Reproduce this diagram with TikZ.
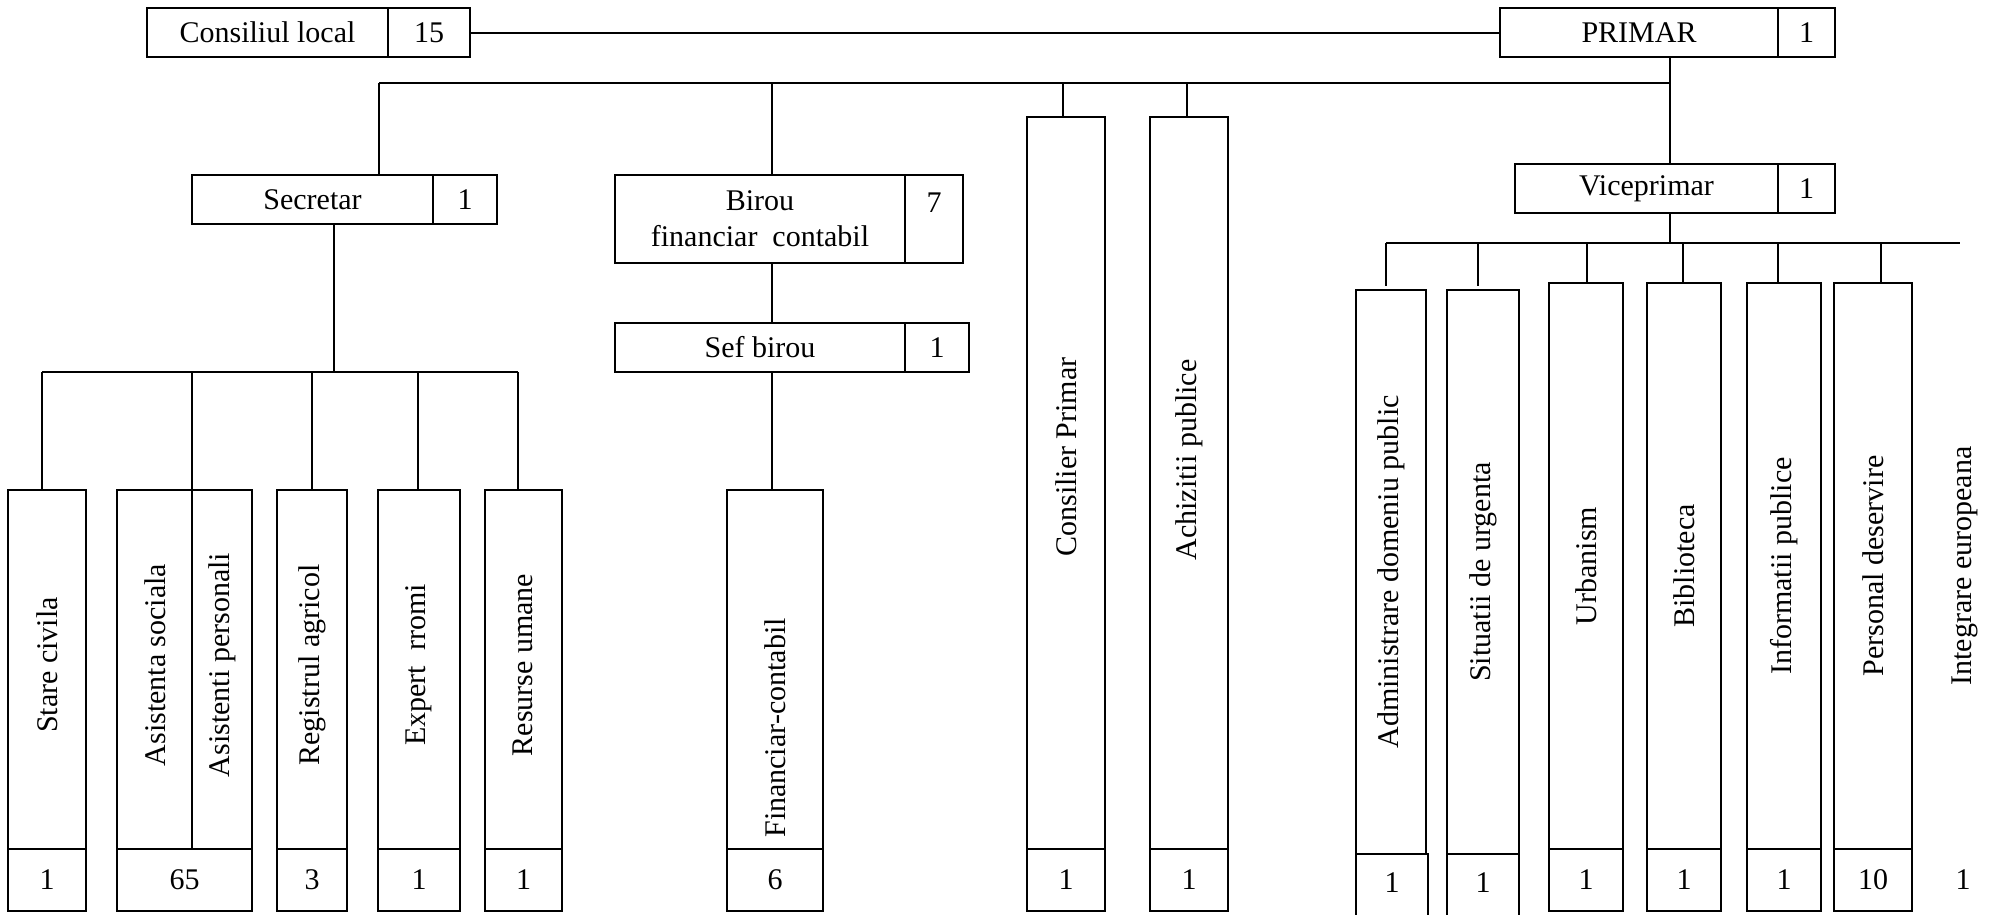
\documentclass[tikz,border=0pt]{standalone}
\usepackage{fontspec}
\setmainfont{Liberation Serif}
\usetikzlibrary{calc}
\newcommand\fs{\fontsize{30}{36}\selectfont}
\newcommand\rbox[7][]{\node[bx,minimum width={#5-#3},minimum height={#6-#4},#1] (#2) at (#3,#4) {#7};}
\begin{document}
\begin{tikzpicture}[x=1pt,y=-1pt,line width=2pt,
  bx/.style={draw,inner sep=0pt,outer sep=0pt,anchor=north west,font=\fs,align=center},
  lbl/.style={inner sep=0pt,font=\fs},
  vlbl/.style={inner sep=0pt,font=\fs,rotate=90},
  gapdrop/.style={shorten >=4pt}]
\useasboundingbox (0,0) rectangle (1992,914);
% top row
\rbox{cl}{147}{8}{388}{57}{Consiliul local}
\rbox{cln}{388}{8}{470}{57}{15}
\rbox{pr}{1500}{8}{1778}{57}{PRIMAR}
\rbox{prn}{1778}{8}{1835}{57}{1}
\draw (cln.east) -- (pr.west);
% bus 1
\coordinate (b1a) at (379,83);
\coordinate (b1b) at (772,83);
\coordinate (b1c) at (1063,83);
\coordinate (b1d) at (1187,83);
\coordinate (b1e) at (1670,83);
\draw (b1a) -- (b1e);
% secretar, birou
\rbox{sec}{192}{175}{433}{224}{Secretar}
\rbox{secn}{433}{175}{497}{224}{1}
\rbox{bir}{615}{175}{905}{263}{Birou\\financiar\ \ contabil}
\rbox{birn}{905}{175}{963}{263}{}
\node[lbl] (birnum) at (934,203) {7};
\rbox{sef}{615}{323}{905}{372}{Sef birou}
\rbox{sefn}{905}{323}{969}{372}{1}
% consilier, achizitii
\rbox{con}{1027}{117}{1105}{849}{}
\rbox{conn}{1027}{849}{1105}{911}{1}
\rbox{ach}{1150}{117}{1228}{849}{}
\rbox{achn}{1150}{849}{1228}{911}{1}
\node[vlbl] (conl) at (1066,457) {Consilier Primar};
\node[vlbl] (achl) at (1189,460) {Achizitii publice};
% viceprimar
\rbox{vp}{1515}{164}{1778}{213}{Viceprimar}
\rbox{vpn}{1778}{164}{1835}{213}{1}
\draw (b1a) -- (b1a |- sec.north);
\draw (b1b) -- (b1b |- bir.north);
\draw (b1c) -- (b1c |- con.north);
\draw (b1d) -- (b1d |- ach.north);
\draw (b1e |- pr.south) -- (b1e |- vp.north);
\draw (b1b |- bir.south) -- (b1b |- sef.north);
% secretar subordinates
\coordinate (s0) at (334,372);
\coordinate (s1) at (42,372);
\coordinate (s2) at (192,372);
\coordinate (s3) at (312,372);
\coordinate (s4) at (418,372);
\coordinate (s5) at (518,372);
\draw (s0 |- sec.south) -- (s0);
\draw (s1) -- (s5);
\rbox{st}{8}{490}{86}{849}{}
\rbox{stn}{8}{849}{86}{911}{1}
\rbox{as}{117}{490}{252}{849}{}
\rbox{asn}{117}{849}{252}{911}{65}
\rbox{rg}{277}{490}{347}{849}{}
\rbox{rgn}{277}{849}{347}{911}{3}
\rbox{ex}{378}{490}{460}{849}{}
\rbox{exn}{378}{849}{460}{911}{1}
\rbox{rs}{485}{490}{562}{849}{}
\rbox{rsn}{485}{849}{562}{911}{1}
\draw (s1) -- (s1 |- st.north);
\draw (s2) -- (s2 |- asn.north);
\draw (s3) -- (s3 |- rg.north);
\draw (s4) -- (s4 |- ex.north);
\draw (s5) -- (s5 |- rs.north);
\node[vlbl] (stl) at (47,665) {Stare civila};
\node[vlbl] (asl) at (155,665) {Asistenta sociala};
\node[vlbl] (apl) at (222,665) {Asistenti personali};
\node[vlbl] (rgl) at (312,665) {Registrul agricol};
\node[vlbl] (exl) at (419,665) {Expert\ \ rromi};
\node[vlbl] (rsl) at (523,665) {Resurse umane};
% financiar
\rbox{fin}{727}{490}{823}{849}{}
\rbox{finn}{727}{849}{823}{911}{6}
\draw (b1b |- sef.south) -- (b1b |- fin.north);
\node[vlbl] (finl) at (775,728) {Financiar-contabil};
% viceprimar subordinates
\coordinate (v0) at (1670,243);
\coordinate (v1) at (1386,243);
\coordinate (v2) at (1478,243);
\coordinate (v3) at (1587,243);
\coordinate (v4) at (1683,243);
\coordinate (v5) at (1778,243);
\coordinate (v6) at (1881,243);
\coordinate (v7) at (1960,243);
\draw (v0 |- vp.south) -- (v0);
\draw (v1) -- (v7);
\rbox{ad}{1356}{290}{1426}{854}{}
\rbox[draw=none]{adn}{1356}{854}{1428}{930}{}
\draw (adn.south west) -- (adn.north west) -- (adn.north east) -- (adn.south east);
\rbox{si}{1447}{290}{1519}{854}{}
\rbox[draw=none]{sin}{1447}{854}{1519}{930}{}
\draw (sin.south west) -- (sin.north west) -- (sin.north east) -- (sin.south east);
\node[lbl] (adnum) at (1392,883) {1};
\node[lbl] (sinum) at (1483,883) {1};
\rbox{ur}{1549}{283}{1623}{849}{}
\rbox{urn}{1549}{849}{1623}{911}{1}
\rbox{bi}{1647}{283}{1721}{849}{}
\rbox{bin}{1647}{849}{1721}{911}{1}
\rbox{in}{1747}{283}{1821}{849}{}
\rbox{inn}{1747}{849}{1821}{911}{1}
\rbox{pe}{1834}{283}{1912}{849}{}
\rbox{pen}{1834}{849}{1912}{911}{10}
\draw[gapdrop] (v1) -- (v1 |- ad.north);
\draw[gapdrop] (v2) -- (v2 |- si.north);
\draw (v3) -- (v3 |- ur.north);
\draw (v4) -- (v4 |- bi.north);
\draw (v5) -- (v5 |- in.north);
\draw (v6) -- (v6 |- pe.north);
\node[vlbl] (adl) at (1391,572) {Administrare domeniu public};
\node[vlbl] (sil) at (1483,572) {Situatii de urgenta};
\node[vlbl] (url) at (1586,566) {Urbanism};
\node[vlbl] (bil) at (1684,566) {Biblioteca};
\node[vlbl] (inl) at (1784,566) {Informatii publice};
\node[vlbl] (pel) at (1873,566) {Personal deservire};
\node[vlbl] (iel) at (1965,566) {Integrare europeana};
\node[lbl] (ienum) at (1963,880) {1};
\end{tikzpicture}
\end{document}
